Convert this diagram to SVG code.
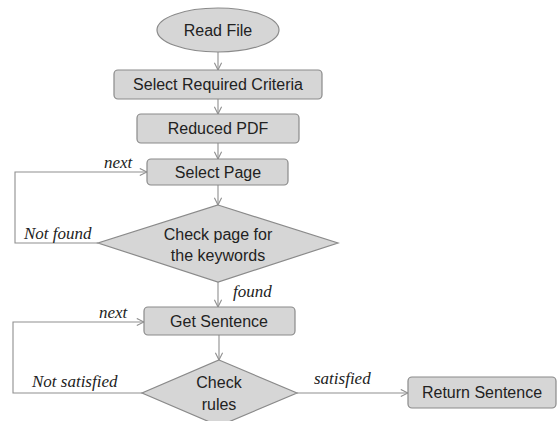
<svg xmlns="http://www.w3.org/2000/svg" width="558" height="421" viewBox="0 0 558 421">
  <style>
    .shape { fill: #d6d6d6; stroke: #8a8a8a; stroke-width: 1.2; }
    .label { font-family: "Liberation Sans", Arial, sans-serif; font-size: 16px; fill: #222; text-anchor: middle; }
    .edge { fill: none; stroke: #8f8f8f; stroke-width: 1.1; }
    .note { font-family: "Liberation Serif", "Times New Roman", serif; font-style: italic; font-size: 17px; fill: #222; }
  </style>
  <defs>
    <marker id="arrow" viewBox="0 0 10 10" refX="9" refY="5" markerWidth="9" markerHeight="9" markerUnits="userSpaceOnUse" orient="auto">
      <path d="M1,1 L9,5 L1,9" fill="none" stroke="#8f8f8f" stroke-width="1.2"/>
    </marker>
  </defs>
  <rect width="558" height="421" fill="#ffffff"/>

  <!-- connectors -->
  <g id="connectors">
    <line class="edge" x1="218" y1="52" x2="218" y2="70" marker-end="url(#arrow)"/>
    <line class="edge" x1="218" y1="99" x2="218" y2="114" marker-end="url(#arrow)"/>
    <line class="edge" x1="218" y1="143" x2="218" y2="159" marker-end="url(#arrow)"/>
    <line class="edge" x1="218" y1="185" x2="218" y2="205" marker-end="url(#arrow)"/>
    <polyline class="edge" points="98,243 15,243 15,172 147,172" marker-end="url(#arrow)"/>
    <line class="edge" x1="218" y1="282" x2="218" y2="307" marker-end="url(#arrow)"/>
    <line class="edge" x1="219" y1="335" x2="219" y2="360" marker-end="url(#arrow)"/>
    <polyline class="edge" points="142,393 13,393 13,322 144,322" marker-end="url(#arrow)"/>
    <line class="edge" x1="297" y1="393" x2="408" y2="393" marker-end="url(#arrow)"/>
    <text class="note" x="104" y="168">next</text>
    <text class="note" x="24" y="239">Not found</text>
    <text class="note" x="233" y="297">found</text>
    <text class="note" x="99" y="318">next</text>
    <text class="note" x="32" y="387">Not satisfied</text>
    <text class="note" x="314" y="384">satisfied</text>
  </g>

  <g id="read-file">
    <ellipse class="shape" cx="218" cy="30" rx="61" ry="22"/>
    <text class="label" x="218" y="36">Read File</text>
  </g>

  <g id="select-criteria">
    <rect class="shape" x="114" y="70" width="208" height="29" rx="4"/>
    <text class="label" x="218" y="90">Select Required Criteria</text>
  </g>

  <g id="reduced-pdf">
    <rect class="shape" x="137" y="114" width="162" height="29" rx="4"/>
    <text class="label" x="218" y="134">Reduced PDF</text>
  </g>

  <g id="select-page">
    <rect class="shape" x="147" y="159" width="141" height="26" rx="4"/>
    <text class="label" x="218" y="178">Select Page</text>
  </g>

  <g id="check-page">
    <polygon class="shape" points="218,205 338,243 218,282 98,243"/>
    <text class="label" x="218" y="240">Check page for</text>
    <text class="label" x="218" y="261">the keywords</text>
  </g>

  <g id="get-sentence">
    <rect class="shape" x="144" y="307" width="151" height="28" rx="4"/>
    <text class="label" x="219" y="327">Get Sentence</text>
  </g>

  <g id="check-rules">
    <polygon class="shape" points="219,360 297,393 219,426 142,393"/>
    <text class="label" x="219" y="388">Check</text>
    <text class="label" x="219" y="410">rules</text>
  </g>

  <g id="return-sentence">
    <rect class="shape" x="408" y="377" width="148" height="31" rx="4"/>
    <text class="label" x="482" y="398">Return Sentence</text>
  </g>
</svg>
